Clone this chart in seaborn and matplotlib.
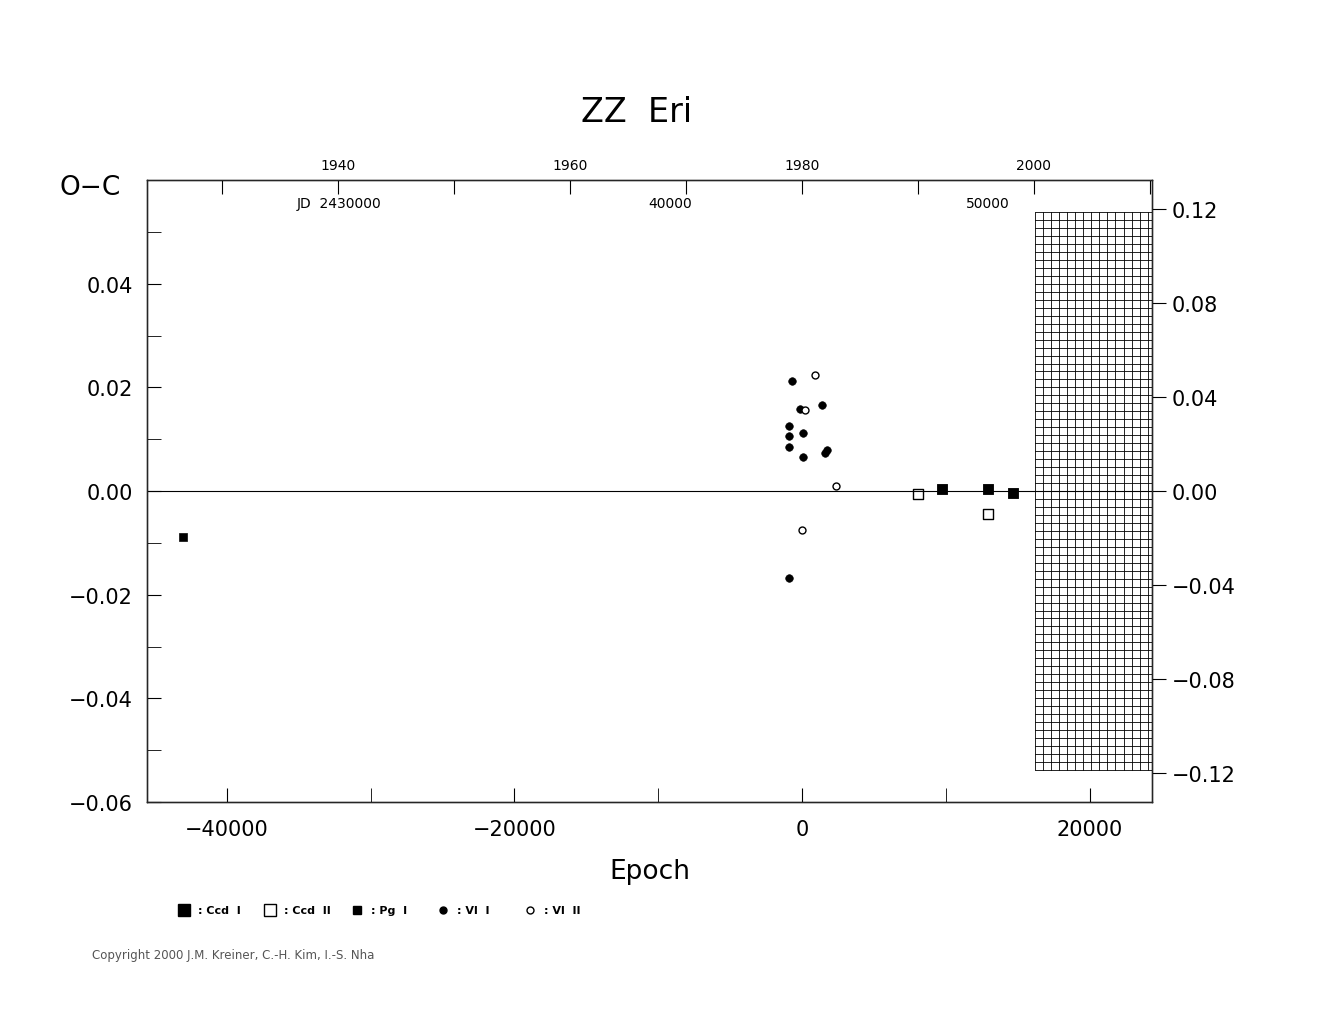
import numpy as np
import matplotlib
matplotlib.use("Agg")
import matplotlib.pyplot as plt
import seaborn as sns

sns.set_style("white")
plt.rcParams['font.family'] = ['DejaVu Sans']
plt.rcParams['text.color'] = 'black'
plt.rcParams['xtick.color'] = 'black'
plt.rcParams['ytick.color'] = 'black'
plt.rcParams['axes.labelcolor'] = 'black'

P = 0.4528
ccd1_e = [9740, 12930, 14670]; ccd1_oc = [0.0004, 0.0004, -0.0004]
ccd2_e = [8070, 12930]; ccd2_oc = [-0.0006, -0.0044]
pg1_e = [-43050]; pg1_oc = [-0.0088]
vl1_e = [-720, -140, 70, 1390, -900, -900, -900, 70, 1600, 1740, -900]
vl1_oc = [0.0212, 0.0158, 0.0112, 0.0165, 0.0125, 0.0106, 0.0085, 0.0065, 0.0073, 0.0079, -0.0167]
vl2_e = [900, 210, 2360, 0]
vl2_oc = [0.0223, 0.0156, 0.001, -0.0075]

fig = plt.figure(figsize=(13.25, 10.2), dpi=100)
ax = fig.add_axes([147/1325, 217/1020, 1005/1325, 622/1020])
xmin, xmax = -45550, 24340
ax.set_xlim(xmin, xmax); ax.set_ylim(-0.06, 0.06)

# hatched grid region
gx0, gy = 16200, 0.0538
for xv in np.arange(gx0, xmax, 560):
    ax.plot([xv, xv], [-gy, gy], color='black', lw=0.6)
for yv in np.linspace(-gy, gy, 71):
    ax.plot([gx0, xmax], [yv, yv], color='black', lw=0.6)

ax.axhline(0, color='black', lw=0.8)
sns.scatterplot(x=ccd1_e, y=ccd1_oc, marker='s', s=60, color='black', edgecolor='black', ax=ax)
sns.scatterplot(x=ccd2_e, y=ccd2_oc, marker='s', s=60, facecolor='white', edgecolor='black', linewidth=1, ax=ax)
sns.scatterplot(x=pg1_e, y=pg1_oc, marker='s', s=35, color='black', edgecolor='black', ax=ax)
sns.scatterplot(x=vl1_e, y=vl1_oc, marker='o', s=30, color='black', edgecolor='black', ax=ax)
sns.scatterplot(x=vl2_e, y=vl2_oc, marker='o', s=25, facecolor='white', edgecolor='black', linewidth=1, ax=ax)

for s in ax.spines.values():
    s.set_color('black'); s.set_linewidth(1)
ax.set_xticks([-40000, -20000, 0, 20000])
ax.set_xticks([-30000, -10000, 10000], minor=True)
ax.set_yticks([-0.06, -0.04, -0.02, 0, 0.02, 0.04])
ax.set_yticklabels(['\u22120.06', '\u22120.04', '\u22120.02', '0.00', '0.02', '0.04'])
ax.set_yticks(np.arange(-0.05, 0.06, 0.02), minor=True)
ax.tick_params(axis='both', which='both', direction='in', labelsize=15, pad=10, length=10)
ax.tick_params(axis='x', pad=12)
ax.set_xticklabels(['\u221240000', '\u221220000', '0', '20000'])
ax.set_xlabel('Epoch', fontsize=19, labelpad=14)

# right axis in period units
ay = ax.twinx()
ay.set_ylim(-0.06 / P, 0.06 / P)
ay.set_yticks([-0.12, -0.08, -0.04, 0, 0.04, 0.08, 0.12])
ay.set_yticklabels(['\u22120.12', '\u22120.08', '\u22120.04', '0.00', '0.04', '0.08', '0.12'])
ay.tick_params(direction='out', length=10, labelsize=15, pad=4)

# top axis in years
at = ax.twiny()
ept = 806.7
at.set_xlim(1980 + xmin / ept, 1980 + xmax / ept)
at.set_xticks([1930, 1940, 1950, 1960, 1970, 1980, 1990, 2000, 2010])
at.set_xticklabels(['', '1940', '', '1960', '', '1980', '', '2000', ''])
at.tick_params(direction='in', length=10, labelsize=10, pad=6)

# JD labels
for e, lab in [(-32200, 'JD  2430000'), ((40000 - 44157) / P, '40000'), ((50000 - 44157) / P, '50000')]:
    ax.text(e, 0.0555, lab, ha='center', va='center', fontsize=10)

fig.text(637/1325, 1 - 112/1020, 'ZZ  Eri', fontsize=24, ha='center', va='center')
fig.text(60/1325, 1 - 188/1020, 'O\u2212C', fontsize=19, ha='left', va='center')
fig.text(92/1325, 1 - 956/1020, 'Copyright 2000 J.M. Kreiner, C.-H. Kim, I.-S. Nha', fontsize=8.5, color='#555555', va='center')

# legend
ly = 1 - 911/1020
items = [(184, 's', 'black', 9, ': Ccd  I'), (270, 's', 'white', 9, ': Ccd  II'),
         (357, 's', 'black', 6, ': Pg  I'), (443, 'o', 'black', 5, ': Vl  I'), (530, 'o', 'white', 5, ': Vl  II')]
for px, m, fc, ms, lab in items:
    fig.lines.append(plt.Line2D([px/1325], [ly], marker=m, markersize=ms, markerfacecolor=fc,
                                markeredgecolor='black', linestyle='none', transform=fig.transFigure))
    fig.text((px + 14)/1325, ly, lab, fontsize=8, fontweight='bold', va='center')

fig.savefig('out.png', dpi=100)
